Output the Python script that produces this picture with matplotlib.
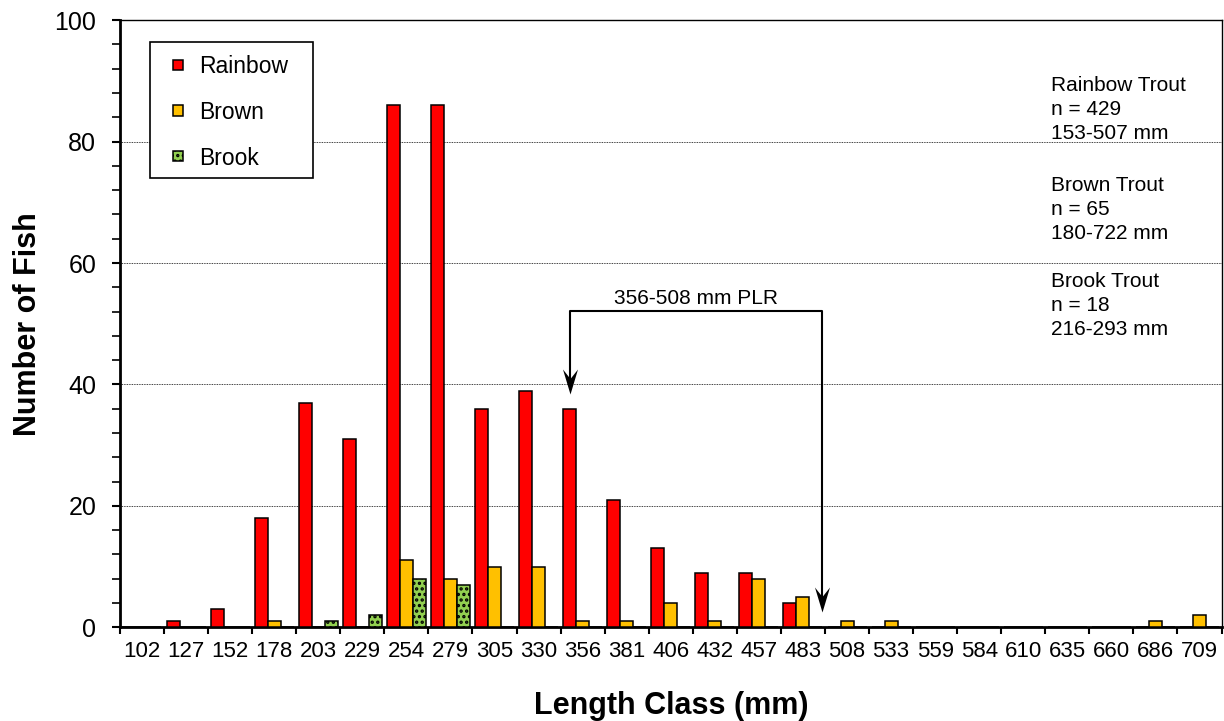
import numpy as np
import matplotlib.pyplot as plt
from matplotlib.ticker import MultipleLocator, FixedLocator
from matplotlib.patches import Rectangle

plt.rcParams['font.family'] = ['Liberation Sans', 'DejaVu Sans']
plt.rcParams['hatch.linewidth'] = 1.6

length_classes = ['102', '127', '152', '178', '203', '229', '254', '279', '305', '330',
                  '356', '381', '406', '432', '457', '483', '508', '533', '559', '584',
                  '610', '635', '660', '686', '709']
rainbow = [0, 1, 3, 18, 37, 31, 86, 86, 36, 39, 36, 21, 13, 9, 9, 4, 0, 0, 0, 0, 0, 0, 0, 0, 0]
brown = [0, 0, 0, 1, 0, 0, 11, 8, 10, 10, 1, 1, 4, 1, 8, 5, 1, 1, 0, 0, 0, 0, 0, 1, 2]
brook = [0, 0, 0, 0, 1, 2, 8, 7, 0, 0, 0, 0, 0, 0, 0, 0, 0, 0, 0, 0, 0, 0, 0, 0, 0]

species_notes = ["Rainbow Trout\nn = 429\n153-507 mm",
                 "Brown Trout\nn = 65\n180-722 mm",
                 "Brook Trout\nn = 18\n216-293 mm"]

fig = plt.figure(figsize=(12.24, 7.21), dpi=100)
ax = fig.add_axes([0.098, 0.130, 0.900, 0.842])

x = np.arange(len(length_classes))
w = 0.295
ax.bar(x - w, rainbow, w, color='#FF0000', edgecolor='black', linewidth=1.1, label='Rainbow', zorder=3)
ax.bar(x, brown, w, color='#FFC000', edgecolor='black', linewidth=1.1, label='Brown', zorder=3)
ax.bar(x + w, brook, w, color='#92D050', edgecolor='black', linewidth=1.1, hatch='...', label='Brook', zorder=3)

ax.set_xlim(-0.5, len(length_classes) - 0.5)
ax.set_ylim(0, 100)
ax.set_xticks(x)
ax.set_xticklabels(length_classes, fontsize=16)
ax.xaxis.set_minor_locator(FixedLocator(np.arange(-0.5, len(length_classes), 1)))
ax.tick_params(axis='x', which='major', length=0, pad=10)
ax.tick_params(axis='x', which='minor', length=5, width=1.5, direction='out')
ax.yaxis.set_major_locator(MultipleLocator(20))
ax.yaxis.set_minor_locator(MultipleLocator(4))
ax.tick_params(axis='y', which='major', length=6, width=1.5, labelsize=18, pad=11)
ax.tick_params(axis='y', which='minor', length=6, width=1.2)

ax.yaxis.grid(True, color='black', linestyle=(0, (1, 1)), linewidth=0.6, zorder=0)

for side in ['left', 'bottom']:
    ax.spines[side].set_linewidth(2)
for side in ['top', 'right']:
    ax.spines[side].set_linewidth(1)

ax.set_ylabel('Number of Fish', fontsize=22, fontweight='bold', labelpad=8)
ax.set_xlabel('Length Class (mm)', fontsize=22, fontweight='bold', labelpad=21)

# legend with a hand-placed frame
ax.add_patch(Rectangle((0.0272, 0.7397), 0.1479, 0.2241, transform=ax.transAxes,
                       facecolor='white', edgecolor='black', linewidth=1.2, zorder=5))
leg = ax.legend(loc='upper left', bbox_to_anchor=(0.0481, 0.943), fontsize=16.5, frameon=False,
                handlelength=0.45, handleheight=0.3, labelspacing=1.0, borderpad=0,
                handletextpad=0.7, borderaxespad=0)
leg.set_zorder(6)

# species summary text
for note, yv in zip(species_notes, [90.8, 74.3, 58.5]):
    ax.text(20.62, yv, note, fontsize=15, va='top', ha='left', linespacing=1.32, zorder=4)

# PLR bracket
x_left = 10 - w
x_right = 15.43
y_top = 52.1
head = [(0, 0), (-0.3, 1), (0, 0.62), (0.3, 1), (0, 0)]
ax.plot([x_left, x_left, x_right, x_right], [40.0, y_top, y_top, 4.0], color='black', lw=1.5, zorder=4)
ax.plot([x_left, x_right], [38.5, 2.5], linestyle='none', marker=head, markersize=36,
        color='black', markeredgewidth=0, zorder=4)
ax.text((x_left + x_right) / 2, 53.2, '356-508 mm PLR', fontsize=15, ha='center', va='baseline', zorder=4)

fig.savefig('out.png', dpi=100)
